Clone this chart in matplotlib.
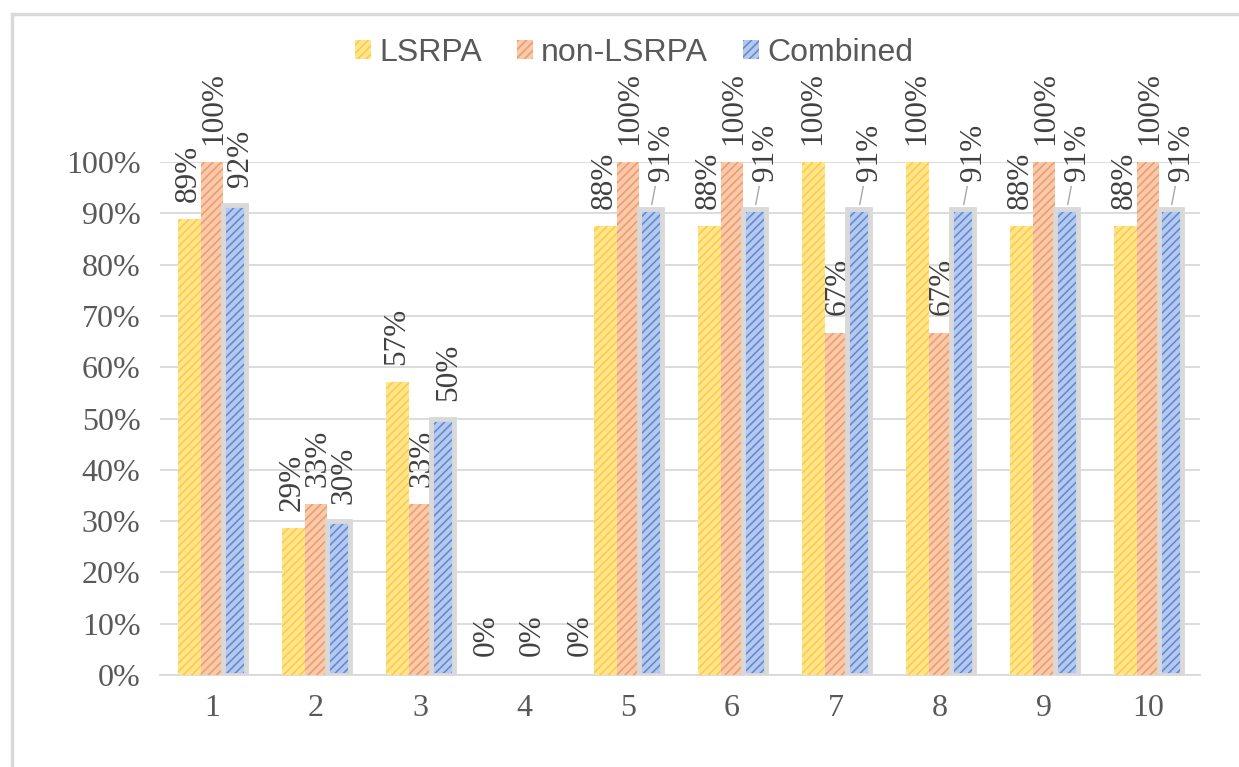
import matplotlib.pyplot as plt
from matplotlib.patches import Patch, Rectangle
import numpy as np

# success rate per test case
cases = ["1", "2", "3", "4", "5", "6", "7", "8", "9", "10"]
lsrpa = [0.889, 0.286, 0.571, 0.0, 0.875, 0.875, 1.0, 1.0, 0.875, 0.875]
non_lsrpa = [1.0, 0.333, 0.333, 0.0, 1.0, 1.0, 0.667, 0.667, 1.0, 1.0]
combined = [0.917, 0.30, 0.50, 0.0, 0.909, 0.909, 0.909, 0.909, 0.909, 0.909]
series_names = ["LSRPA", "non-LSRPA", "Combined"]
y_ticks = [0, 0.1, 0.2, 0.3, 0.4, 0.5, 0.6, 0.7, 0.8, 0.9, 1.0]

# light fill + darker diagonal stripes, Excel-ish pattern fill
fills = ["#ffe58f", "#f8c9aa", "#b5c9ee"]
stripes = ["#ffcb3a", "#f09a66", "#5f86d0"]
border = "#d9d9d9"
text_col = "#595959"
label_col = "#404040"
serif = "Liberation Serif"
sans = "Liberation Sans"

plt.rcParams["hatch.linewidth"] = 1.1

fig = plt.figure(figsize=(12.39, 7.67), dpi=100)
ax = fig.add_axes([160 / 1239, 92 / 767, 1040 / 1239, 513 / 767])

x = np.arange(1, len(cases) + 1)
w = 0.22
offsets = [-w, 0, w]
all_vals = [lsrpa, non_lsrpa, combined]

for i, vals in enumerate(all_vals):
    ax.bar(x + offsets[i], vals, w, color=fills[i], edgecolor=stripes[i],
           hatch="////", linewidth=0, zorder=3)
# grey outline on the combined bars (skip empty ones)
outline_w = [3.5 if v > 0 else 0 for v in combined]
ax.bar(x + offsets[2], combined, w, fill=False, edgecolor=border,
       linewidth=outline_w, zorder=4)

# value labels, rotated; spread a little sideways so they don't collide
fs = 22.5
label_dx = [-0.5, 1.5, 4]
zero_dx = [-11, 6, 24]
for i, vals in enumerate(all_vals):
    for j, v in enumerate(vals):
        xp = x[j] + offsets[i]
        txt = f"{v * 100:.0f}%"
        if v == 0:
            ax.annotate(txt, (xp, v), xytext=(zero_dx[i], 14), textcoords="offset points",
                        rotation=90, ha="center", va="bottom", fontsize=fs,
                        family=serif, color=label_col, annotation_clip=False)
        elif i == 2 and j >= 4:
            # these sit off to the side with a leader line
            ax.annotate(txt, (xp, v), xytext=(8, 20), textcoords="offset points",
                        rotation=90, ha="center", va="bottom", fontsize=fs,
                        family=serif, color=label_col, annotation_clip=False,
                        arrowprops=dict(arrowstyle="-", color="#a6a6a6", lw=1,
                                        shrinkA=2, shrinkB=3))
        else:
            ax.annotate(txt, (xp, v), xytext=(label_dx[i], 12.5), textcoords="offset points",
                        rotation=90, ha="center", va="bottom", fontsize=fs,
                        family=serif, color=label_col, annotation_clip=False)

ax.set_xlim(0.5, 10.5)
ax.set_ylim(0, 1.0)
ax.set_xticks(x)
ax.set_xticklabels(cases)
ax.set_yticks(y_ticks)
ax.set_yticklabels([f"{t * 100:.0f}%" for t in y_ticks])
ax.tick_params(length=0, labelsize=23, labelcolor=text_col, pad=14)
ax.tick_params(axis="x", pad=14)
for lab in ax.get_xticklabels() + ax.get_yticklabels():
    lab.set_family(serif)

ax.grid(axis="y", color=border, linewidth=1.3, zorder=0)
ax.set_axisbelow(True)
for s in ["top", "right", "left"]:
    ax.spines[s].set_visible(False)
ax.spines["bottom"].set_color(border)
ax.spines["bottom"].set_linewidth(1.3)

handles = [
    Patch(facecolor=fills[0], edgecolor=stripes[0], hatch="////", linewidth=0),
    Patch(facecolor=fills[1], edgecolor=stripes[1], hatch="////", linewidth=0),
    Patch(facecolor=fills[2], edgecolor=stripes[2], hatch="////", linewidth=0),
]
leg = fig.legend(handles, series_names, loc="center", bbox_to_anchor=(0.512, 0.931),
                 ncol=3, frameon=False, prop={"family": sans, "size": 23},
                 handlelength=0.5, handleheight=0.5, handletextpad=0.25,
                 columnspacing=1.1)
for t in leg.get_texts():
    t.set_color(text_col)

# outer chart frame
fig.add_artist(Rectangle((12 / 1239, -0.1), 1.2, 1.1 - 14 / 767, transform=fig.transFigure,
                         fill=False, edgecolor=border, linewidth=2.5, clip_on=False))

fig.savefig("out.png", dpi=100)
